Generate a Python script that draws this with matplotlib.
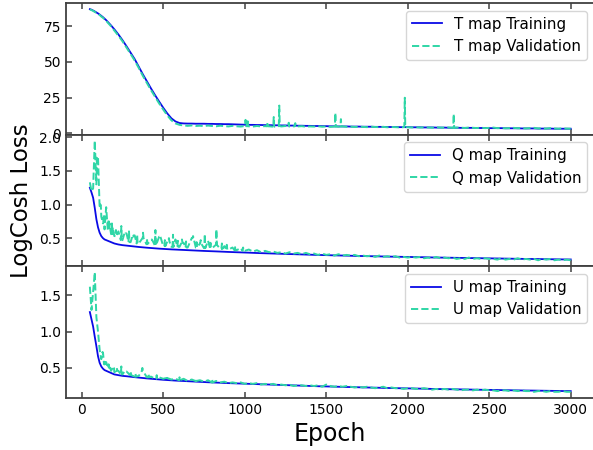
import numpy as np
import matplotlib
matplotlib.use('Agg')
import matplotlib.pyplot as plt

# epochs: dense at the start, then every 25
epochs = np.r_[np.arange(50, 201, 10), np.arange(225, 3001, 25)]

# ---- T map ----
t_train = [87.0, 86.6, 86.0, 85.4, 84.7, 84.0, 83.2, 82.3, 81.4, 80.4, 79.3, 78.1, 76.9, 75.6, 74.3, 72.9,
           69.3, 65.3, 61.0, 56.5, 52.0, 46.7, 41.4, 36.4,
           31.5, 26.8, 22.3, 18.0, 14.0, 10.6, 8.4, 7.3,
           7.0, 6.9, 6.9, 6.8, 6.8, 6.8, 6.7, 6.7,
           6.6, 6.6, 6.5, 6.5, 6.4, 6.3, 6.2, 6.1,
           6.0, 6.0, 5.9, 5.9, 5.8, 5.8, 5.7, 5.7,
           5.6, 5.6, 5.5, 5.5, 5.4, 5.4, 5.3, 5.3,
           5.2, 5.2, 5.1, 5.1, 5.0, 5.0, 4.9, 4.9,
           4.9, 4.8, 4.8, 4.8, 4.7, 4.7, 4.7, 4.6,
           4.6, 4.6, 4.5, 4.5, 4.5, 4.4, 4.4, 4.4,
           4.3, 4.3, 4.3, 4.2, 4.2, 4.2, 4.1, 4.1,
           4.1, 4.0, 4.0, 4.0, 3.9, 3.9, 3.9, 3.9,
           3.8, 3.8, 3.8, 3.7, 3.7, 3.7, 3.7, 3.6,
           3.6, 3.6, 3.6, 3.5, 3.5, 3.5, 3.5, 3.4,
           3.4, 3.4, 3.4, 3.3, 3.3, 3.3, 3.3, 3.3]
t_val = [86.8, 86.3, 85.8, 85.0, 84.5, 83.6, 82.9, 81.8, 81.0, 79.9, 78.9, 77.5, 76.3, 75.0, 73.5, 72.0,
         68.4, 64.5, 60.1, 55.6, 51.0, 45.8, 40.3, 35.3,
         30.3, 25.6, 21.0, 16.7, 12.6, 9.2, 7.0, 6.0,
         5.6, 5.3, 5.6, 5.2, 5.4, 5.1, 5.5, 5.2,
         5.0, 5.4, 5.1, 4.9, 5.3, 5.0, 4.8, 5.2,
         5.0, 4.8, 5.2, 4.9, 5.1, 5.0, 4.7, 5.1,
         4.9, 5.2, 4.8, 5.0, 4.9, 5.1, 4.7, 4.9,
         4.8, 5.0, 4.7, 4.9, 4.6, 4.8, 4.7, 4.9,
         4.6, 4.8, 4.5, 4.7, 4.6, 4.4, 4.7, 4.5,
         4.4, 4.6, 4.3, 4.5, 4.4, 4.2, 4.5, 4.3,
         4.2, 4.4, 4.1, 4.3, 4.2, 4.0, 4.3, 4.1,
         4.0, 4.2, 3.9, 4.1, 4.0, 3.8, 4.1, 3.9,
         3.8, 4.0, 3.7, 3.9, 4.1, 3.7, 3.8, 3.6,
         3.7, 3.9, 3.6, 3.8, 3.5, 3.7, 3.9, 3.5,
         3.6, 3.4, 3.7, 3.5, 3.3, 3.6, 3.4, 3.3]
t_spike_ep = [1005, 1017, 1140, 1178, 1212, 1270, 1310, 1556, 1590, 1982, 2282]
t_spike_val = [9.5, 10.0, 8.0, 11.5, 19.5, 7.5, 7.2, 14.3, 10.0, 25.0, 13.6]

# ---- Q map ----
q_train = [1.25, 1.18, 1.10, 0.95, 0.78, 0.66, 0.58, 0.53, 0.50, 0.48, 0.47, 0.46, 0.45, 0.44, 0.43, 0.42,
           0.405, 0.395, 0.388, 0.380, 0.374, 0.368, 0.362, 0.357,
           0.352, 0.347, 0.343, 0.339, 0.335, 0.332, 0.329, 0.326,
           0.323, 0.320, 0.317, 0.314, 0.312, 0.309, 0.307, 0.304,
           0.302, 0.299, 0.297, 0.294, 0.292, 0.290, 0.287, 0.285,
           0.283, 0.280, 0.278, 0.276, 0.274, 0.272, 0.270, 0.268,
           0.266, 0.264, 0.262, 0.260, 0.258, 0.257, 0.255, 0.253,
           0.251, 0.250, 0.248, 0.246, 0.245, 0.243, 0.242, 0.240,
           0.239, 0.237, 0.236, 0.234, 0.233, 0.232, 0.230, 0.229,
           0.228, 0.226, 0.225, 0.224, 0.223, 0.221, 0.220, 0.219,
           0.218, 0.217, 0.216, 0.215, 0.213, 0.212, 0.211, 0.210,
           0.209, 0.208, 0.207, 0.206, 0.205, 0.204, 0.203, 0.202,
           0.201, 0.200, 0.199, 0.198, 0.197, 0.196, 0.196, 0.195,
           0.194, 0.193, 0.192, 0.191, 0.190, 0.190, 0.189, 0.188,
           0.187, 0.186, 0.186, 0.185, 0.184, 0.183, 0.183, 0.182]
q_val = [1.33, 1.20, 1.24, 1.95, 1.30, 1.70, 0.95, 0.82, 0.72, 0.63, 0.96, 0.62, 0.72, 0.56, 0.66, 0.53,
         0.60, 0.47, 0.57, 0.44, 0.54, 0.42, 0.50, 0.41,
         0.47, 0.39, 0.52, 0.38, 0.45, 0.37, 0.48, 0.37,
         0.43, 0.36, 0.50, 0.36, 0.42, 0.35, 0.46, 0.35,
         0.40, 0.34, 0.38, 0.33, 0.36, 0.32, 0.35, 0.31,
         0.33, 0.30, 0.32, 0.29, 0.31, 0.29, 0.30, 0.28,
         0.29, 0.27, 0.29, 0.27, 0.28, 0.26, 0.28, 0.26,
         0.27, 0.25, 0.27, 0.25, 0.26, 0.24, 0.26, 0.24,
         0.25, 0.24, 0.25, 0.23, 0.24, 0.23, 0.24, 0.22,
         0.24, 0.22, 0.23, 0.22, 0.23, 0.21, 0.22, 0.21,
         0.22, 0.21, 0.22, 0.20, 0.21, 0.20, 0.22, 0.20,
         0.21, 0.20, 0.21, 0.19, 0.20, 0.19, 0.21, 0.19,
         0.20, 0.19, 0.20, 0.19, 0.19, 0.18, 0.20, 0.18,
         0.19, 0.18, 0.20, 0.18, 0.19, 0.18, 0.19, 0.17,
         0.19, 0.18, 0.19, 0.17, 0.18, 0.17, 0.18, 0.17]
q_spike_ep = [96, 115, 135, 165, 185, 210, 243, 265, 290, 315, 340, 376, 400, 430, 452, 480,
              510, 535, 560, 590, 615, 640, 683, 705, 730, 755, 790, 826, 860, 890, 940, 990]
q_spike_val = [1.72, 1.00, 0.85, 0.78, 0.75, 0.62, 0.68, 0.55, 0.60, 0.52, 0.55, 0.58, 0.50, 0.48, 0.62, 0.50,
               0.47, 0.50, 0.55, 0.46, 0.48, 0.45, 0.53, 0.44, 0.47, 0.56, 0.43, 0.63, 0.42, 0.40, 0.38, 0.36]

# ---- U map ----
u_train = [1.27, 1.17, 1.07, 0.93, 0.80, 0.66, 0.57, 0.52, 0.49, 0.47, 0.46, 0.45, 0.44, 0.43, 0.42, 0.41,
           0.40, 0.39, 0.385, 0.378, 0.372, 0.366, 0.360, 0.355,
           0.350, 0.345, 0.340, 0.336, 0.332, 0.328, 0.325, 0.322,
           0.319, 0.316, 0.313, 0.310, 0.307, 0.305, 0.302, 0.300,
           0.297, 0.295, 0.292, 0.290, 0.288, 0.285, 0.283, 0.281,
           0.279, 0.277, 0.275, 0.273, 0.271, 0.269, 0.267, 0.265,
           0.263, 0.261, 0.259, 0.258, 0.256, 0.254, 0.252, 0.251,
           0.249, 0.247, 0.246, 0.244, 0.243, 0.241, 0.240, 0.238,
           0.237, 0.235, 0.234, 0.232, 0.231, 0.230, 0.228, 0.227,
           0.226, 0.224, 0.223, 0.222, 0.221, 0.219, 0.218, 0.217,
           0.216, 0.215, 0.214, 0.213, 0.211, 0.210, 0.209, 0.208,
           0.207, 0.206, 0.205, 0.204, 0.203, 0.202, 0.201, 0.200,
           0.199, 0.198, 0.197, 0.196, 0.195, 0.194, 0.194, 0.193,
           0.192, 0.191, 0.190, 0.189, 0.188, 0.188, 0.187, 0.186,
           0.185, 0.184, 0.184, 0.183, 0.182, 0.181, 0.181, 0.180]
u_val = [1.62, 1.30, 1.55, 1.82, 1.20, 1.00, 0.75, 0.62, 0.70, 0.55, 0.58, 0.50, 0.53, 0.46, 0.50, 0.44,
         0.46, 0.41, 0.45, 0.40, 0.38, 0.39, 0.46, 0.37,
         0.38, 0.35, 0.37, 0.35, 0.36, 0.34, 0.35, 0.33,
         0.35, 0.32, 0.34, 0.32, 0.33, 0.31, 0.33, 0.30,
         0.32, 0.30, 0.31, 0.29, 0.30, 0.29, 0.30, 0.28,
         0.29, 0.28, 0.29, 0.27, 0.28, 0.27, 0.28, 0.26,
         0.27, 0.26, 0.27, 0.25, 0.26, 0.26, 0.25, 0.26,
         0.25, 0.26, 0.24, 0.27, 0.25, 0.24, 0.25, 0.24,
         0.25, 0.24, 0.23, 0.24, 0.23, 0.24, 0.23, 0.22,
         0.23, 0.24, 0.22, 0.23, 0.22, 0.22, 0.21, 0.22,
         0.22, 0.21, 0.21, 0.22, 0.21, 0.20, 0.21, 0.20,
         0.21, 0.20, 0.21, 0.20, 0.19, 0.20, 0.20, 0.19,
         0.20, 0.19, 0.20, 0.19, 0.19, 0.18, 0.19, 0.19,
         0.18, 0.19, 0.18, 0.19, 0.18, 0.18, 0.17, 0.18,
         0.18, 0.17, 0.18, 0.17, 0.17, 0.18, 0.17, 0.17]
u_spike_ep = [128, 140, 165, 195, 215, 243, 265, 300, 330, 372, 410, 460, 520, 600, 700, 800]
u_spike_val = [0.72, 0.60, 0.55, 0.52, 0.50, 0.52, 0.46, 0.45, 0.42, 0.50, 0.42, 0.40, 0.39, 0.37, 0.35, 0.34]

panels = [('T', t_train, t_val, t_spike_ep, t_spike_val),
          ('Q', q_train, q_val, q_spike_ep, q_spike_val),
          ('U', u_train, u_val, u_spike_ep, u_spike_val)]


def with_spikes(ep, val, sp_ep, sp_val):
    # put each narrow spike into the validation curve, next to the nearest epoch value
    ep = list(ep)
    val = list(val)
    grid = np.array(epochs)
    for e, v in zip(sp_ep, sp_val):
        i = int(np.argmin(np.abs(grid - e)))
        base = val[i]
        ep += [e - 3, e, e + 3]
        val += [base, v, base]
    order = np.argsort(ep, kind='stable')
    return np.array(ep)[order], np.array(val)[order]


fig, axes = plt.subplots(3, 1, sharex=True, figsize=(5.93, 4.5), dpi=100)
plt.subplots_adjust(left=0.111, right=1.003, bottom=0.116, top=0.993, hspace=0)

for ax, (name, tr, va, sp_e, sp_v) in zip(axes, panels):
    ex, vy = with_spikes(epochs, va, sp_e, sp_v)
    ax.plot(epochs, tr, '-', color='#0a0ae6', lw=1.3, label='%s map Training' % name)
    ax.plot(ex, vy, '--', color='#2fd6a6', lw=1.4, label='%s map Validation' % name)
    ax.tick_params(direction='in', top=True, labelsize=10, length=4.5, width=1.1,
                   color='#404040')
    for s in ax.spines.values():
        s.set_linewidth(1.3)
        s.set_color('#404040')
    ax.spines['right'].set_visible(False)
    ax.legend(loc='upper right', fontsize=10.8)

axes[1].set_ylabel('LogCosh Loss', fontsize=16.5)
axes[2].set_xlabel('Epoch', fontsize=17)
axes[2].set_xticks([0, 500, 1000, 1500, 2000, 2500, 3000])

fig.savefig('out.png', dpi=100)
